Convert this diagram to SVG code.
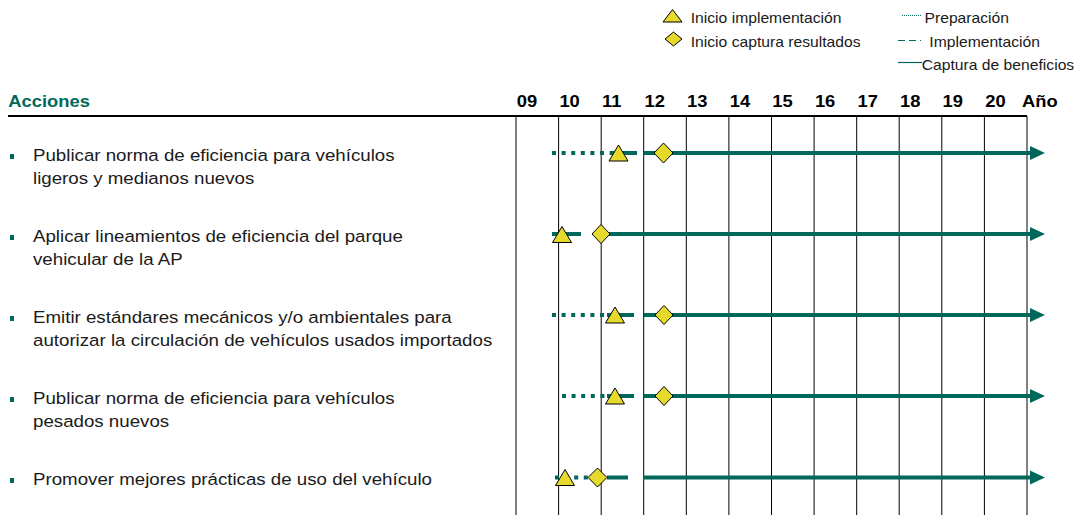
<svg xmlns="http://www.w3.org/2000/svg" width="1078" height="515" viewBox="0 0 1078 515">
<style>
.t{font-family:"Liberation Sans",Arial,sans-serif;font-size:16.7px;fill:#1a1a1a}
.lg{font-family:"Liberation Sans",Arial,sans-serif;font-size:14px;fill:#1a1a1a}
.b{font-family:"Liberation Sans",Arial,sans-serif;font-size:16.4px;font-weight:bold;fill:#000}
.h{fill:#00685a}
.grid{stroke:#000;stroke-width:1;fill:none}
.bar{stroke:#00685a;stroke-width:4;fill:none}
.dot{stroke:#00685a;stroke-width:4;fill:none;stroke-dasharray:4 5.6}
.mk{fill:#e5d92c;stroke:#000;stroke-width:1;stroke-linejoin:miter}
.arr{fill:#00685a}
.bul{fill:#00685a}
</style>

<g id="legend">
  <polygon class="mk" points="672.5,9.5 682,22 663,22"/>
  <text class="lg" transform="translate(690.7,22.5) scale(1.12,1)">Inicio implementación</text>
  <polygon class="mk" points="673.5,32 682,39 673.5,46 665,39"/>
  <text class="lg" transform="translate(690.7,46.5) scale(1.12,1)">Inicio captura resultados</text>
  <line x1="902" y1="15.5" x2="922" y2="15.5" stroke="#00685a" stroke-width="1" stroke-dasharray="1 1"/>
  <text class="lg" transform="translate(924.5,22.5) scale(1.12,1)">Preparación</text>
  <line x1="898" y1="40.5" x2="921" y2="40.5" stroke="#00685a" stroke-width="1" stroke-dasharray="7 4"/>
  <text class="lg" transform="translate(929.3,46.5) scale(1.12,1)">Implementación</text>
  <line x1="898" y1="62.5" x2="922" y2="62.5" stroke="#00685a" stroke-width="1.2"/>
  <text class="lg" transform="translate(921.7,69.5) scale(1.12,1)">Captura de beneficios</text>
</g>

<g id="header">
  <text class="b h" transform="translate(8.3,106.7) scale(1.12,1)" style="fill:#00685a">Acciones</text>
  <text class="b" transform="translate(516.8,106.7) scale(1.12,1)">09</text>
  <text class="b" transform="translate(559.4,106.7) scale(1.12,1)">10</text>
  <text class="b" transform="translate(602,106.7) scale(1.12,1)">11</text>
  <text class="b" transform="translate(644.5,106.7) scale(1.12,1)">12</text>
  <text class="b" transform="translate(687.1,106.7) scale(1.12,1)">13</text>
  <text class="b" transform="translate(729.7,106.7) scale(1.12,1)">14</text>
  <text class="b" transform="translate(772.3,106.7) scale(1.12,1)">15</text>
  <text class="b" transform="translate(814.9,106.7) scale(1.12,1)">16</text>
  <text class="b" transform="translate(857.5,106.7) scale(1.12,1)">17</text>
  <text class="b" transform="translate(900,106.7) scale(1.12,1)">18</text>
  <text class="b" transform="translate(942.6,106.7) scale(1.12,1)">19</text>
  <text class="b" transform="translate(985.2,106.7) scale(1.12,1)">20</text>
  <text class="b" transform="translate(1022,106.7) scale(1.12,1)">Año</text>
  <line x1="8" y1="116" x2="1027" y2="116" stroke="#000" stroke-width="2"/>
</g>

<g id="grid">
  <line class="grid" x1="516" y1="116" x2="516" y2="515"/>
  <line class="grid" x1="558.6" y1="116" x2="558.6" y2="515"/>
  <line class="grid" x1="601.2" y1="116" x2="601.2" y2="515"/>
  <line class="grid" x1="643.7" y1="116" x2="643.7" y2="515"/>
  <line class="grid" x1="686.3" y1="116" x2="686.3" y2="515"/>
  <line class="grid" x1="728.9" y1="116" x2="728.9" y2="515"/>
  <line class="grid" x1="771.5" y1="116" x2="771.5" y2="515"/>
  <line class="grid" x1="814.1" y1="116" x2="814.1" y2="515"/>
  <line class="grid" x1="856.7" y1="116" x2="856.7" y2="515"/>
  <line class="grid" x1="899.2" y1="116" x2="899.2" y2="515"/>
  <line class="grid" x1="941.8" y1="116" x2="941.8" y2="515"/>
  <line class="grid" x1="984.4" y1="116" x2="984.4" y2="515"/>
  <line class="grid" x1="1027" y1="116" x2="1027" y2="515"/>
</g>

<g id="action1">
  <rect class="bul" x="10" y="154" width="4" height="5"/>
  <text class="t" transform="translate(33,161) scale(1.12,1)">Publicar norma de eficiencia para vehículos<tspan x="0" dy="23">ligeros y medianos nuevos</tspan></text>
</g>
<g id="action2">
  <rect class="bul" x="10" y="235" width="4" height="5"/>
  <text class="t" transform="translate(33,242) scale(1.12,1)">Aplicar lineamientos de eficiencia del parque<tspan x="0" dy="23">vehicular de la AP</tspan></text>
</g>
<g id="action3">
  <rect class="bul" x="10" y="316" width="4" height="5"/>
  <text class="t" transform="translate(33,323) scale(1.12,1)">Emitir estándares mecánicos y/o ambientales para<tspan x="0" dy="23">autorizar la circulación de vehículos usados importados</tspan></text>
</g>
<g id="action4">
  <rect class="bul" x="10" y="397" width="4" height="5"/>
  <text class="t" transform="translate(33,404) scale(1.12,1)">Publicar norma de eficiencia para vehículos<tspan x="0" dy="23">pesados nuevos</tspan></text>
</g>
<g id="action5">
  <rect class="bul" x="10" y="478" width="4" height="5"/>
  <text class="t" transform="translate(33,485) scale(1.12,1)">Promover mejores prácticas de uso del vehículo</text>
</g>

<g id="connectors">
  <!-- row 1 -->
  <line class="dot" x1="552" y1="153" x2="611" y2="153"/>
  <line class="bar" x1="611" y1="153" x2="637" y2="153"/>
  <line class="bar" x1="644" y1="153" x2="1031" y2="153"/>
  <polygon class="arr" points="1030,146 1045,153 1030,160"/>
  <!-- row 2 -->
  <line class="bar" x1="552" y1="234" x2="581" y2="234"/>
  <line class="bar" x1="601" y1="234" x2="1031" y2="234"/>
  <polygon class="arr" points="1030,227 1045,234 1030,241"/>
  <!-- row 3 -->
  <line class="dot" x1="552" y1="315" x2="607" y2="315"/>
  <line class="bar" x1="607" y1="315" x2="634" y2="315"/>
  <line class="bar" x1="644" y1="315" x2="1031" y2="315"/>
  <polygon class="arr" points="1030,308 1045,315 1030,322"/>
  <!-- row 4 -->
  <line class="dot" x1="562" y1="396" x2="607" y2="396"/>
  <line class="bar" x1="607" y1="396" x2="634" y2="396"/>
  <line class="bar" x1="644" y1="396" x2="1031" y2="396"/>
  <polygon class="arr" points="1030,389 1045,396 1030,403"/>
  <!-- row 5 -->
  <line class="dot" x1="555" y1="477.5" x2="592" y2="477.5"/>
  <line class="bar" x1="607" y1="477.5" x2="628" y2="477.5"/>
  <line class="bar" x1="643" y1="477.5" x2="1031" y2="477.5"/>
  <polygon class="arr" points="1030,470.5 1045,477.5 1030,484.5"/>
</g>

<g id="milestones">
  <polygon class="mk" points="618.5,145 628,161 609,161"/>
  <polygon class="mk" points="663.5,143 673,153 663.5,163 654,153"/>
  <polygon class="mk" points="562,226.5 571.5,242.5 552.5,242.5"/>
  <polygon class="mk" points="601,224.5 610,234 601,243.5 592,234"/>
  <polygon class="mk" points="615,307 624.5,323 605.5,323"/>
  <polygon class="mk" points="664,305.5 673,315 664,324.5 655,315"/>
  <polygon class="mk" points="615,388 624.5,404 605.5,404"/>
  <polygon class="mk" points="664,386.5 673,396 664,405.5 655,396"/>
  <polygon class="mk" points="565,469.5 574.5,485.5 555.5,485.5"/>
  <polygon class="mk" points="597.5,468 607,477.5 597.5,487 588,477.5"/>
</g>
</svg>
